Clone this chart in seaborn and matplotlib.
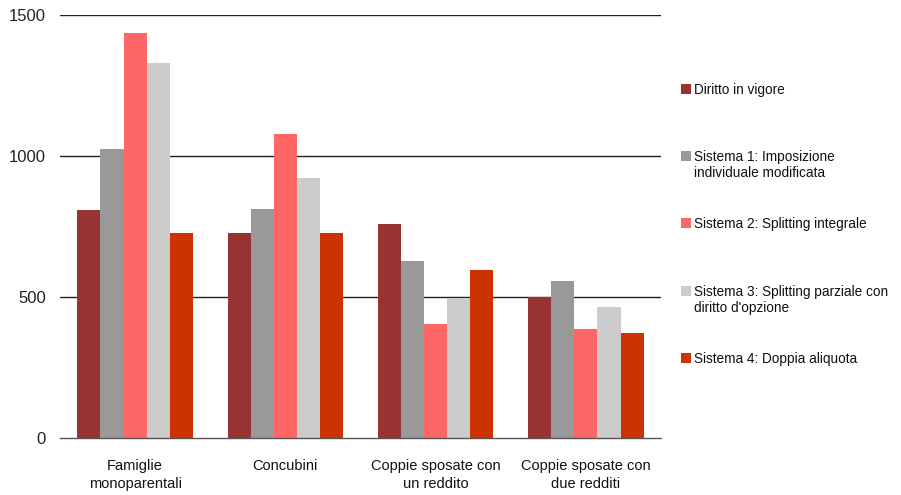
import matplotlib
matplotlib.use("Agg")
import matplotlib.pyplot as plt
import seaborn as sns
import pandas as pd
from matplotlib.patches import Rectangle

categories = ["Famiglie\nmonoparentali", "Concubini", "Coppie sposate con\nun reddito", "Coppie sposate con\ndue redditi"]
series = ["Diritto in vigore", "Sistema 1: Imposizione\nindividuale modificata", "Sistema 2: Splitting integrale",
          "Sistema 3: Splitting parziale con\ndiritto d'opzione", "Sistema 4: Doppia aliquota"]
diritto = [808, 727, 759, 500]
sistema1 = [1025, 812, 628, 557]
sistema2 = [1436, 1078, 404, 387]
sistema3 = [1330, 922, 496, 465]
sistema4 = [727, 727, 596, 372]
colors = ["#993333", "#999999", "#FF6666", "#CCCCCC", "#CC3300"]
yticks = [0, 500, 1000, 1500]

values = [diritto, sistema1, sistema2, sistema3, sistema4]
rows = []
for s, vals in zip(series, values):
    for c, v in zip(categories, vals):
        rows.append({"cat": c, "serie": s, "val": v})
df = pd.DataFrame(rows)

sns.set_theme(style="white")
plt.rcParams["font.family"] = ["Liberation Sans", "DejaVu Sans"]

W, H = 901, 495
fig = plt.figure(figsize=(W/100, H/100), dpi=100)
ax = fig.add_axes([60/W, 57/H, 601/W, 423/H])
sns.barplot(data=df, x="cat", y="val", hue="serie", palette=colors, width=0.77,
            gap=0, saturation=1, ax=ax, legend=False, linewidth=0, edgecolor="none")
ax.set_ylim(0, 1500)
ax.set_xlim(-0.5, 3.5)
ax.set_yticks(yticks)
ax.set_yticklabels([str(t) for t in yticks], fontsize=12, color="#222222")
ax.set_xlabel("")
ax.set_ylabel("")
for t in yticks[1:]:
    ax.axhline(t, color="#222222", lw=1, zorder=0)
for sp in ["left", "right", "top"]:
    ax.spines[sp].set_visible(False)
ax.spines["bottom"].set_color("#555555")
ax.spines["bottom"].set_linewidth(1)
ax.set_xticks(range(4))
ax.set_xticklabels(categories, fontsize=10.5, color="#111111", linespacing=1.4)
ax.tick_params(axis="x", which="major", length=0, pad=15)
ax.set_xticks([-0.5, 0.5, 1.5, 2.5, 3.5], minor=True)
ax.tick_params(axis="x", which="minor", length=5, width=1, color="#555555", direction="out")
ax.tick_params(axis="y", length=0, pad=10)

# legend: entries top-aligned at equal intervals
for i, (lab, col) in enumerate(zip(series, colors)):
    top = 84 + 67.2 * i
    fig.add_artist(Rectangle((681/W, 1 - (top + 10)/H), 10/W, 10/H,
                             facecolor=col, edgecolor="none", transform=fig.transFigure))
    fig.text(694/W, 1 - (top - 1)/H, lab, fontsize=9.8, va="top", ha="left",
             color="#111111", linespacing=1.2)

fig.savefig("out.png", dpi=100)
